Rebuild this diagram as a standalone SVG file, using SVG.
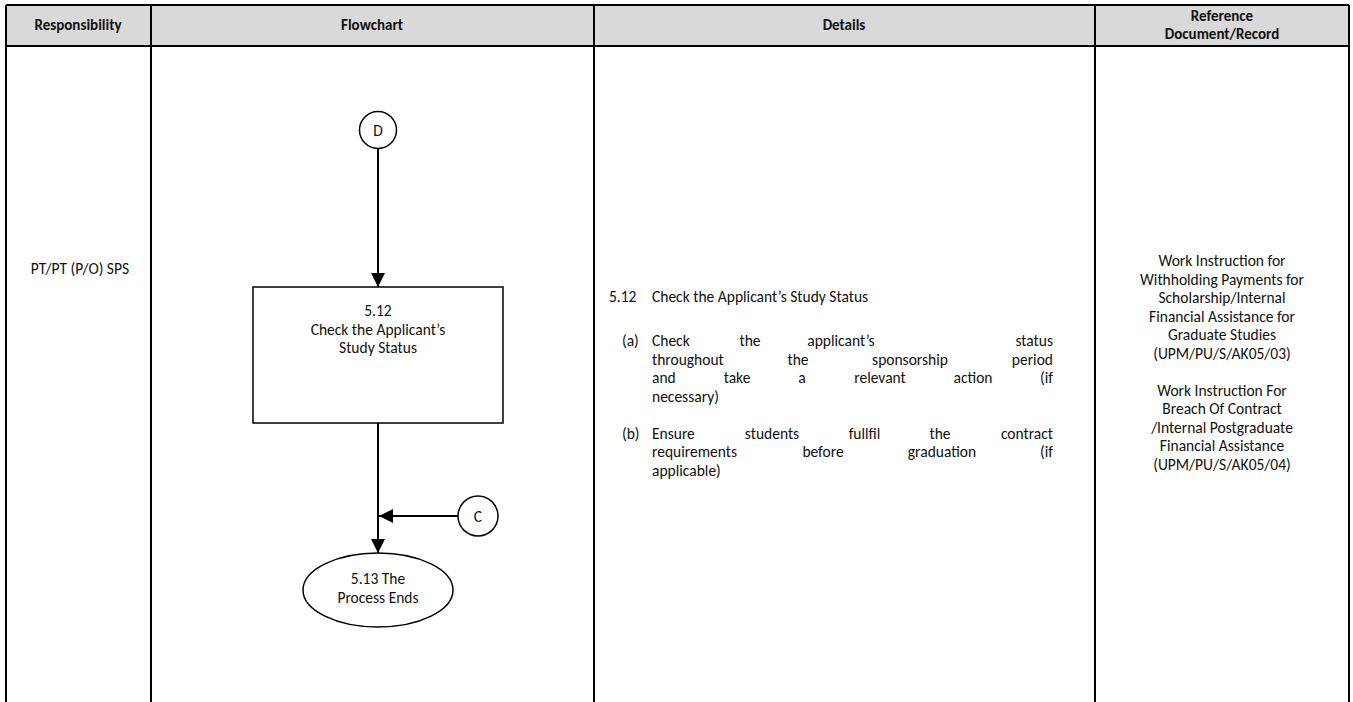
<svg xmlns="http://www.w3.org/2000/svg" width="1353" height="702" viewBox="0 0 1353 702">
  <defs>
    <marker id="arrow" viewBox="0 0 14 14" refX="14" refY="7" markerWidth="14" markerHeight="14" markerUnits="userSpaceOnUse" orient="auto">
      <path d="M0,0 L14,7 L0,14 z" fill="#000"/>
    </marker>
    <style>
      text { font-family: Carlito, Calibri, Lato, "Liberation Sans", sans-serif; font-size: 15.5px; fill: #111; }
      .hd { font-weight: bold; font-size: 15px; text-anchor: middle; }
      .c { text-anchor: middle; }
      .e { text-anchor: end; }
      .grid { stroke: #000; stroke-width: 2; fill: none; }
      .shape { stroke: #000; stroke-width: 1.5; fill: #fff; }
      .flow { stroke: #000; stroke-width: 2; fill: none; marker-end: url(#arrow); }
    </style>
  </defs>

  <rect width="1353" height="702" fill="#fff"/>

  <!-- table header and grid -->
  <g id="table">
    <rect x="6" y="5" width="1343" height="41" fill="#d9d9d9"/>
    <path class="grid" d="M6,5 H1349 M6,46 H1349 M6,5 V702 M151,5 V702 M594,5 V702 M1095,5 V702 M1349,5 V702"/>
    <text class="hd" x="78" y="30">Responsibility</text>
    <text class="hd" x="372" y="30">Flowchart</text>
    <text class="hd" x="844" y="30">Details</text>
    <text class="hd" x="1222" y="21">Reference</text>
    <text class="hd" x="1222" y="39">Document/Record</text>
  </g>

  <!-- responsibility column -->
  <g id="responsibility">
    <text class="c" x="80" y="274">PT/PT (P/O) SPS</text>
  </g>

  <!-- connectors -->
  <g id="connectors">
    <line class="flow" x1="378" y1="149" x2="378" y2="287"/>
    <line class="flow" x1="378" y1="423" x2="378" y2="553"/>
    <line class="flow" x1="458" y1="516" x2="379" y2="516"/>
  </g>

  <!-- flowchart nodes -->
  <g id="node-D">
    <circle class="shape" cx="378" cy="130" r="18.5"/>
    <text class="c" x="378" y="136">D</text>
  </g>
  <g id="node-5-12">
    <rect class="shape" x="253" y="287" width="250" height="136"/>
    <text class="c" x="378" y="316">5.12</text>
    <text class="c" x="378" y="334.5">Check the Applicant’s</text>
    <text class="c" x="378" y="353">Study Status</text>
  </g>
  <g id="node-C">
    <circle class="shape" cx="478" cy="516" r="20"/>
    <text class="c" x="478" y="521.5">C</text>
  </g>
  <g id="node-5-13">
    <ellipse class="shape" cx="378" cy="590" rx="75" ry="37"/>
    <text class="c" x="378" y="584">5.13 The</text>
    <text class="c" x="378" y="603">Process Ends</text>
  </g>

  <!-- details column -->
  <g id="details">
    <text x="609" y="302">5.12</text>
    <text x="652" y="302">Check the Applicant’s Study Status</text>

    <text x="622" y="346">(a)</text>
    <text x="652" y="346">Check</text>
    <text class="c" x="750" y="346">the</text>
    <text class="c" x="841" y="346">applicant’s</text>
    <text class="e" x="1053" y="346">status</text>

    <text x="652" y="364.5">throughout</text>
    <text class="c" x="798" y="364.5">the</text>
    <text class="c" x="910" y="364.5">sponsorship</text>
    <text class="e" x="1053" y="364.5">period</text>

    <text x="652" y="383">and</text>
    <text class="c" x="737" y="383">take</text>
    <text class="c" x="802" y="383">a</text>
    <text class="c" x="880" y="383">relevant</text>
    <text class="c" x="973" y="383">action</text>
    <text class="e" x="1053" y="383">(if</text>

    <text x="652" y="401.5">necessary)</text>

    <text x="622" y="438.5">(b)</text>
    <text x="652" y="438.5">Ensure</text>
    <text class="c" x="772" y="438.5">students</text>
    <text class="c" x="864.5" y="438.5">fullfil</text>
    <text class="c" x="940" y="438.5">the</text>
    <text class="e" x="1053" y="438.5">contract</text>

    <text x="652" y="457">requirements</text>
    <text class="c" x="823" y="457">before</text>
    <text class="c" x="942" y="457">graduation</text>
    <text class="e" x="1053" y="457">(if</text>

    <text x="652" y="475.5">applicable)</text>
  </g>

  <!-- reference document column -->
  <g id="reference">
    <text class="c" x="1222" y="266">Work Instruction for</text>
    <text class="c" x="1222" y="284.5">Withholding Payments for</text>
    <text class="c" x="1222" y="303">Scholarship/Internal</text>
    <text class="c" x="1222" y="321.5">Financial Assistance for</text>
    <text class="c" x="1222" y="340">Graduate Studies</text>
    <text class="c" x="1222" y="358.5">(UPM/PU/S/AK05/03)</text>

    <text class="c" x="1222" y="395.5">Work Instruction For</text>
    <text class="c" x="1222" y="414">Breach Of Contract</text>
    <text class="c" x="1222" y="432.5">/Internal Postgraduate</text>
    <text class="c" x="1222" y="451">Financial Assistance</text>
    <text class="c" x="1222" y="469.5">(UPM/PU/S/AK05/04)</text>
  </g>
</svg>
